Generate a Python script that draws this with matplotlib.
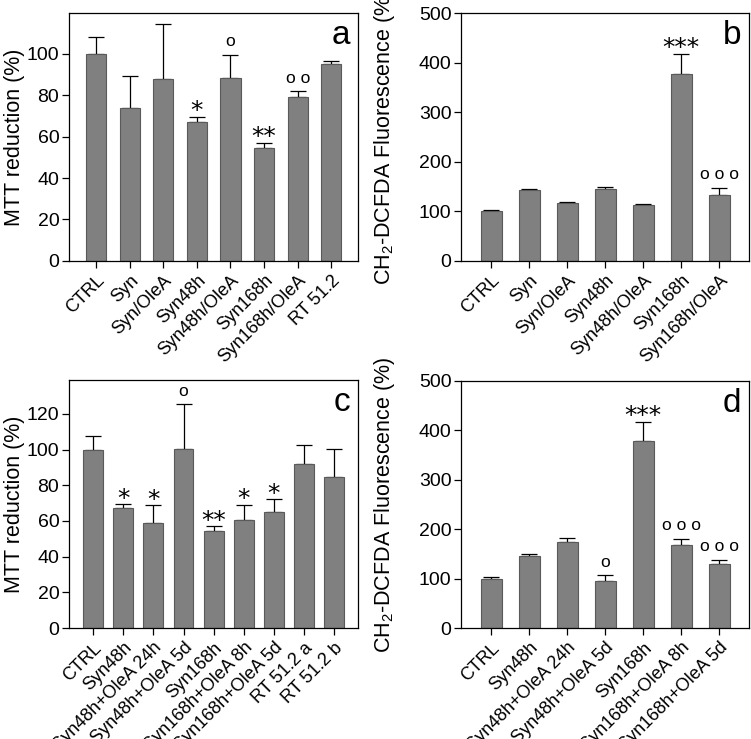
import matplotlib
matplotlib.use("Agg")
import matplotlib.pyplot as plt
import numpy as np

plt.rcParams['font.family'] = ['Liberation Sans', 'DejaVu Sans']
plt.rcParams['mathtext.fontset'] = 'custom'
plt.rcParams['mathtext.rm'] = 'Liberation Sans'
plt.rcParams['mathtext.it'] = 'Liberation Sans:italic'
plt.rcParams['mathtext.default'] = 'regular'

# ---- Data ----
cats_a = ["CTRL", "Syn", "Syn/OleA", "Syn48h", "Syn48h/OleA", "Syn168h", "Syn168h/OleA", "RT 51.2"]
vals_a = [100, 74, 88, 67, 88.5, 54.5, 79, 95]
errs_a = [8, 15, 26.5, 2.5, 11, 2.5, 3, 1.5]
sig_a = ["", "", "", "*", "o", "**", "oo", ""]

cats_b = ["CTRL", "Syn", "Syn/OleA", "Syn48h", "Syn48h/OleA", "Syn168h", "Syn168h/OleA"]
vals_b = [100, 143, 116, 146, 112, 378, 134]
errs_b = [3, 3, 3, 4, 2, 40, 14]
sig_b = ["", "", "", "", "", "***", "ooo"]

cats_c = ["CTRL", "Syn48h", "Syn48h+OleA 24h", "Syn48h+OleA 5d", "Syn168h",
          "Syn168h+OleA 8h", "Syn168h+OleA 5d", "RT 51.2 a", "RT 51.2 b"]
vals_c = [100, 67, 58.7, 100.4, 54.4, 60.6, 65.2, 92, 84.7]
errs_c = [7.7, 2.3, 10, 25, 2.6, 8.4, 7, 10.8, 15.7]
sig_c = ["", "*", "*", "o", "**", "*", "*", "", ""]

cats_d = ["CTRL", "Syn48h", "Syn48h+OleA 24h", "Syn48h+OleA 5d", "Syn168h",
          "Syn168h+OleA 8h", "Syn168h+OleA 5d"]
vals_d = [100, 145, 174, 95, 378, 167, 130.5]
errs_d = [3, 5, 9, 12, 39, 14, 7.5]
sig_d = ["", "", "", "o", "***", "ooo", "ooo"]

BAR_COLOR = "#808080"
EDGE_COLOR = "#5a5a5a"

fig = plt.figure(figsize=(7.51, 7.39), dpi=100)

def panel(rect, cats, vals, errs, sigs, ylim, yticks, ylabel, letter, width, label_x):
    ax = fig.add_axes(rect)
    x = np.arange(len(cats))
    ax.bar(x, vals, width=width, color=BAR_COLOR, edgecolor=EDGE_COLOR, linewidth=0.8, zorder=2)
    ax.errorbar(x, vals, yerr=[np.zeros(len(errs)), errs], fmt='none', ecolor='black',
                elinewidth=0.9, capsize=5.5, capthick=0.9, zorder=1)
    ax.set_xlim(-0.8, len(cats) - 0.2)
    ax.set_ylim(*ylim)
    ax.set_yticks(yticks)
    ax.set_xticks(x)
    ax.set_xticklabels(cats, rotation=45, ha='right', rotation_mode='anchor', fontsize=13)
    ax.tick_params(axis='y', labelsize=14, length=5, width=0.9, direction='out', pad=2)
    ax.tick_params(axis='x', length=5, width=0.9, direction='out', pad=3)
    for s in ax.spines.values():
        s.set_linewidth(0.9)
    ax.set_ylabel(ylabel, fontsize=15.5)
    ax.yaxis.set_label_coords(label_x, 0.5)
    ax.text(0.972, 0.875, letter, transform=ax.transAxes, ha='right', va='baseline', fontsize=24)
    for xi, v, e, s in zip(x, vals, errs, sigs):
        if not s:
            continue
        if '*' in s:
            ax.annotate(s, (xi, v + e), xytext=(0, -1), textcoords='offset points',
                        ha='center', va='baseline', fontsize=18, family='DejaVu Sans')
        else:
            ax.annotate(" ".join(s), (xi, v + e), xytext=(0, 6), textcoords='offset points',
                        ha='center', va='baseline', fontsize=12.5)
    return ax

panel([0.092, 0.647, 0.385, 0.335], cats_a, vals_a, errs_a, sig_a, (0, 119.5),
      [0, 20, 40, 60, 80, 100], "MTT reduction (%)", "a", 0.6, -0.152)
panel([0.614, 0.647, 0.384, 0.335], cats_b, vals_b, errs_b, sig_b, (0, 500),
      [0, 100, 200, 300, 400, 500], "CH$_2$-DCFDA Fluorescence (%)", "b", 0.55, -0.222)
panel([0.092, 0.150, 0.385, 0.336], cats_c, vals_c, errs_c, sig_c, (0, 139),
      [0, 20, 40, 60, 80, 100, 120], "MTT reduction (%)", "c", 0.66, -0.152)
panel([0.614, 0.150, 0.384, 0.335], cats_d, vals_d, errs_d, sig_d, (0, 500),
      [0, 100, 200, 300, 400, 500], "CH$_2$-DCFDA Fluorescence (%)", "d", 0.55, -0.222)

fig.savefig("out.png", dpi=100)
